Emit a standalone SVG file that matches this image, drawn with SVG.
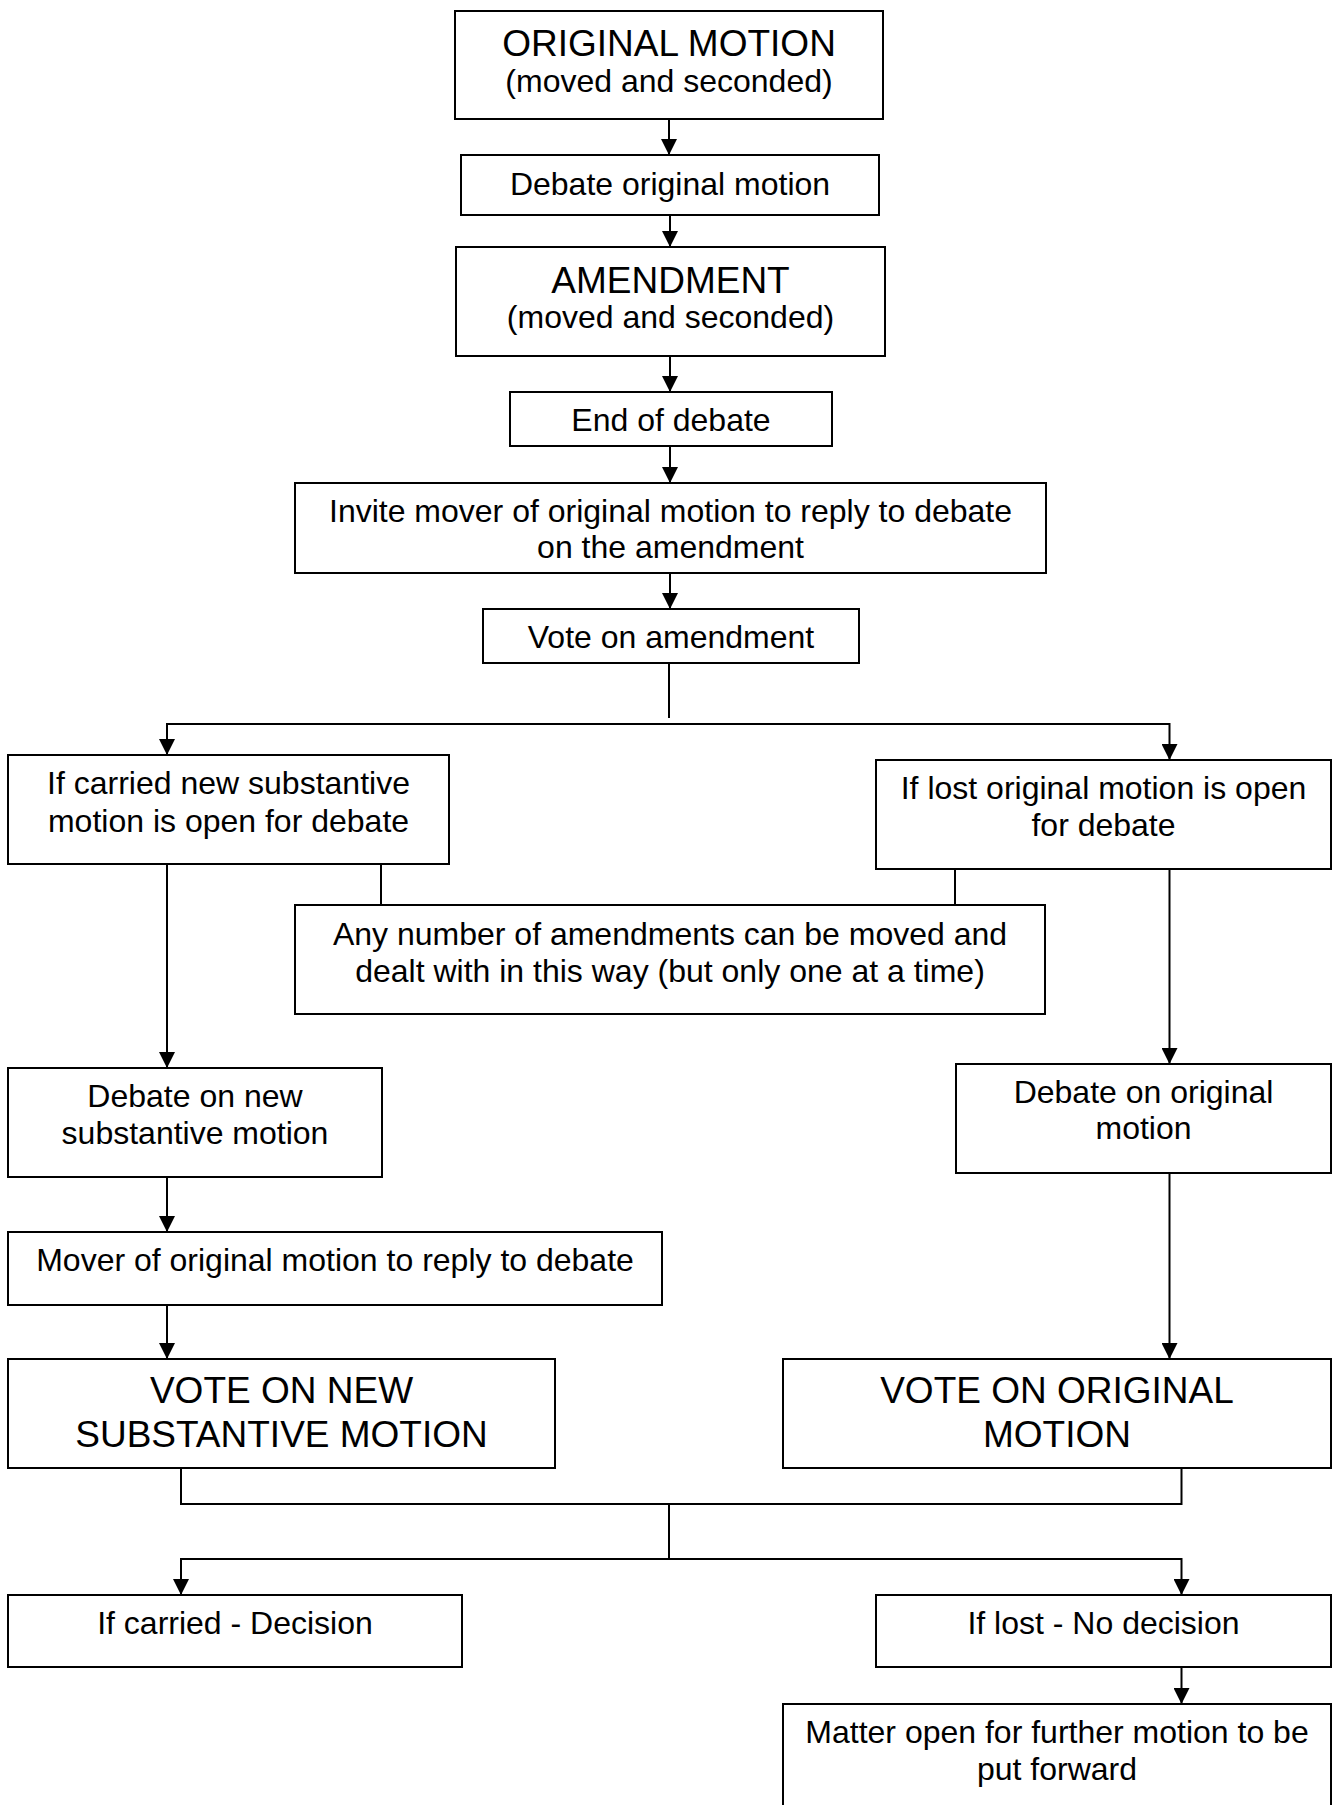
<svg xmlns="http://www.w3.org/2000/svg" width="1338" height="1805" viewBox="0 0 1338 1805">
<defs>
<marker id="ah" markerUnits="userSpaceOnUse" markerWidth="16" markerHeight="16" viewBox="0 0 15 15" refX="15" refY="7.5" orient="auto">
<path d="M0,0 L15,7.5 L0,15 z" fill="#000"/>
</marker>
<style>
rect{fill:#fff;stroke:#000;stroke-width:2}
text{font-family:"Liberation Sans",Arial,sans-serif;font-size:32px;fill:#000;text-anchor:middle}
.t{font-size:37px}
#connectors path{fill:none;stroke:#000;stroke-width:2}
.a{marker-end:url(#ah)}
</style>
</defs>
<rect x="0" y="0" width="1338" height="1805" style="fill:#fff;stroke:none"/>
<g id="connectors">
<path class="a" d="M669,119 V155"/>
<path class="a" d="M670,215 V247"/>
<path class="a" d="M670,356 V392"/>
<path class="a" d="M670,446 V483"/>
<path class="a" d="M670,573 V609"/>
<path d="M669,663 V718"/>
<path class="a" d="M669,724 H167 V755"/>
<path class="a" d="M669,724 H1169.5 V760"/>
<path d="M381,864 V905"/>
<path d="M955,869 V905"/>
<path class="a" d="M167,864 V1068"/>
<path class="a" d="M167,1177 V1232"/>
<path class="a" d="M167,1305 V1359"/>
<path class="a" d="M1169.5,869 V1064"/>
<path class="a" d="M1169.5,1173 V1359"/>
<path d="M181,1468 V1504 H1181.5 V1468"/>
<path d="M669,1504 V1559"/>
<path class="a" d="M669,1559 H181 V1595"/>
<path class="a" d="M669,1559 H1181.5 V1595"/>
<path class="a" d="M1181.5,1667 V1704"/>
</g>
<g id="original-motion"><rect x="455" y="11" width="428" height="108"/><text class="t" x="669" y="56">ORIGINAL MOTION</text><text x="669" y="92">(moved and seconded)</text></g>
<g id="debate-original"><rect x="461" y="155" width="418" height="60"/><text x="670" y="195">Debate original motion</text></g>
<g id="amendment"><rect x="456" y="247" width="429" height="109"/><text class="t" x="670.5" y="293">AMENDMENT</text><text x="670.5" y="328">(moved and seconded)</text></g>
<g id="end-of-debate"><rect x="510" y="392" width="322" height="54"/><text x="671" y="431">End of debate</text></g>
<g id="invite-mover"><rect x="295" y="483" width="751" height="90"/><text x="670.5" y="522">Invite mover of original motion to reply to debate</text><text x="670.5" y="558">on the amendment</text></g>
<g id="vote-amendment"><rect x="483" y="609" width="376" height="54"/><text x="671" y="648">Vote on amendment</text></g>
<g id="if-carried"><rect x="8" y="755" width="441" height="109"/><text x="228.5" y="794">If carried new substantive</text><text x="228.5" y="832">motion is open for debate</text></g>
<g id="if-lost"><rect x="876" y="760" width="455" height="109"/><text x="1103.5" y="799">If lost original motion is open</text><text x="1103.5" y="836">for debate</text></g>
<g id="any-number"><rect x="295" y="905" width="750" height="109"/><text x="670" y="945">Any number of amendments can be moved and</text><text x="670" y="982">dealt with in this way (but only one at a time)</text></g>
<g id="debate-new"><rect x="8" y="1068" width="374" height="109"/><text x="195" y="1107">Debate on new</text><text x="195" y="1144">substantive motion</text></g>
<g id="debate-on-original"><rect x="956" y="1064" width="375" height="109"/><text x="1143.5" y="1103">Debate on original</text><text x="1143.5" y="1139">motion</text></g>
<g id="mover-reply"><rect x="8" y="1232" width="654" height="73"/><text x="335" y="1271">Mover of original motion to reply to debate</text></g>
<g id="vote-new"><rect x="8" y="1359" width="547" height="109"/><text class="t" x="281.5" y="1403">VOTE ON NEW</text><text class="t" x="281.5" y="1447">SUBSTANTIVE MOTION</text></g>
<g id="vote-original"><rect x="783" y="1359" width="548" height="109"/><text class="t" x="1057" y="1403">VOTE ON ORIGINAL</text><text class="t" x="1057" y="1447">MOTION</text></g>
<g id="carried-decision"><rect x="8" y="1595" width="454" height="72"/><text x="235" y="1634">If carried - Decision</text></g>
<g id="lost-no-decision"><rect x="876" y="1595" width="455" height="72"/><text x="1103.5" y="1634">If lost - No decision</text></g>
<g id="matter-open"><rect x="783" y="1704" width="548" height="120"/><text x="1057" y="1743">Matter open for further motion to be</text><text x="1057" y="1780">put forward</text></g>
</svg>
